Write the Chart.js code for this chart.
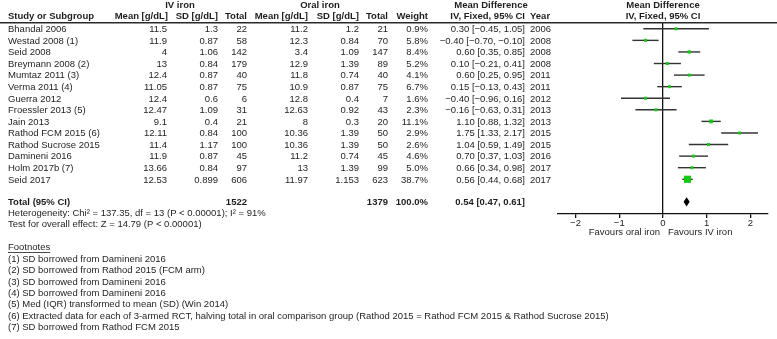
<!DOCTYPE html>
<html lang="en">
<head>
<meta charset="UTF-8" />
<title>IV iron vs oral iron - forest plot</title>
<script src="https://cdn.jsdelivr.net/npm/chart.js"></script>
<style>
  body { margin: 0; background: #ffffff; }
  #wrap { width: 777px; height: 339px; }
</style>
</head>
<body>
<div id="wrap"><canvas id="forest" width="777" height="339"></canvas></div>
<script>
// study rows
const studies = ["Bhandal 2006", "Westad 2008 (1)", "Seid 2008", "Breymann 2008 (2)", "Mumtaz 2011 (3)",
  "Verma 2011 (4)", "Guerra 2012", "Froessler 2013 (5)", "Jain 2013", "Rathod FCM 2015 (6)",
  "Rathod Sucrose 2015", "Damineni 2016", "Holm 2017b (7)", "Seid 2017"];
const ivMean = [11.5, 11.9, 4, 13, 12.4, 11.05, 12.4, 12.47, 9.1, 12.11, 11.4, 11.9, 13.66, 12.53];
const ivSD = [1.3, 0.87, 1.06, 0.84, 0.87, 0.87, 0.6, 1.09, 0.4, 0.84, 1.17, 0.87, 0.84, 0.899];
const ivN = [22, 58, 142, 179, 40, 75, 6, 31, 21, 100, 100, 45, 97, 606];
const oralMean = [11.2, 12.3, 3.4, 12.9, 11.8, 10.9, 12.8, 12.63, 8, 10.36, 10.36, 11.2, 13, 11.97];
const oralSD = [1.2, 0.84, 1.09, 1.39, 0.74, 0.87, 0.4, 0.92, 0.3, 1.39, 1.39, 0.74, 1.39, 1.153];
const oralN = [21, 70, 147, 89, 40, 75, 7, 43, 20, 50, 50, 45, 99, 623];
const weight = [0.9, 5.8, 8.4, 5.2, 4.1, 6.7, 1.6, 2.3, 11.1, 2.9, 2.6, 4.6, 5.0, 38.7];
const meanDiff = [0.30, -0.40, 0.60, 0.10, 0.60, 0.15, -0.40, -0.16, 1.10, 1.75, 1.04, 0.70, 0.66, 0.56];
const ciLow = [-0.45, -0.70, 0.35, -0.21, 0.25, -0.13, -0.96, -0.63, 0.88, 1.33, 0.59, 0.37, 0.34, 0.44];
const ciHigh = [1.05, -0.10, 0.85, 0.41, 0.95, 0.43, 0.16, 0.31, 1.32, 2.17, 1.49, 1.03, 0.98, 0.68];
const years = [2006, 2008, 2008, 2008, 2011, 2011, 2012, 2013, 2013, 2015, 2015, 2016, 2017, 2017];

// pooled result
const totalIvN = 1522;
const totalOralN = 1379;
const totalWeight = 100.0;
const totalMD = [0.54, 0.47, 0.61]; // estimate, low, high

// axis
const tickValues = [-2, -1, 0, 1, 2];
const tickLabels = ["\u22122", "\u22121", "0", "1", "2"];

const statsLines = [
  "Heterogeneity: Chi\u00b2 = 137.35, df = 13 (P < 0.00001); I\u00b2 = 91%",
  "Test for overall effect: Z = 14.79 (P < 0.00001)"
];
const footnotes = [
  "(1) SD borrowed from Damineni 2016",
  "(2) SD borrowed from Rathod 2015 (FCM arm)",
  "(3) SD borrowed from Damineni 2016",
  "(4) SD borrowed from Damineni 2016",
  "(5) Med (IQR) transformed to mean (SD) (Win 2014)",
  "(6) Extracted data for each of 3-armed RCT, halving total in oral comparison group (Rathod 2015 = Rathod FCM 2015 & Rathod Sucrose 2015)",
  "(7) SD borrowed from Rathod FCM 2015"
];

const FONT = '"Liberation Sans", Arial, sans-serif';
const TEXT = "#1e1e1e";
const minus = s => String(s).replace(/-/g, "\u2212");
const f2 = v => minus(v.toFixed(2));
const ciText = (m, lo, hi) => f2(m) + " [" + f2(lo) + ", " + f2(hi) + "]";
const totalRow = studies.length + 0.95;
// square side grows with study weight
const squareRadius = weight.map(w => Math.max(3, 1.15 * Math.sqrt(w)) / Math.SQRT2);

function txt(ctx, s, x, y, align, bold) {
  ctx.font = (bold ? "bold " : "") + "9.5px " + FONT;
  ctx.textAlign = align || "left";
  ctx.textBaseline = "middle";
  ctx.fillStyle = TEXT;
  ctx.fillText(s, x, y);
}

const forestPlugin = {
  id: "forestPlugin",
  beforeDatasetsDraw(chart) {
    const { ctx, scales: { x, y } } = chart;
    ctx.save();
    ctx.strokeStyle = "#333";
    ctx.lineWidth = 1.4;
    studies.forEach((s, i) => {
      const py = y.getPixelForValue(i);
      ctx.beginPath();
      ctx.moveTo(x.getPixelForValue(ciLow[i]), py);
      ctx.lineTo(x.getPixelForValue(ciHigh[i]), py);
      ctx.stroke();
    });
    ctx.restore();
  },
  afterDatasetsDraw(chart) {
    const { ctx, scales: { x, y } } = chart;
    const py = y.getPixelForValue(totalRow);
    ctx.save();
    ctx.fillStyle = "#000";
    ctx.beginPath();
    ctx.moveTo(x.getPixelForValue(totalMD[1]), py);
    ctx.lineTo(x.getPixelForValue(totalMD[0]), py - 4.6);
    ctx.lineTo(x.getPixelForValue(totalMD[2]), py);
    ctx.lineTo(x.getPixelForValue(totalMD[0]), py + 4.6);
    ctx.closePath();
    ctx.fill();
    ctx.restore();
  },
  afterDraw(chart) {
    const { ctx, scales: { x, y } } = chart;
    ctx.save();
    // header line
    ctx.strokeStyle = "#2a2a2a";
    ctx.lineWidth = 1.5;
    ctx.beginPath();
    ctx.moveTo(0, 22.7);
    ctx.lineTo(777, 22.7);
    ctx.stroke();

    // group headers
    txt(ctx, "IV iron", 180, 5, "center", true);
    txt(ctx, "Oral iron", 320, 5, "center", true);
    txt(ctx, "Mean Difference", 491, 5, "center", true);
    txt(ctx, "Mean Difference", x.getPixelForValue(0), 5, "center", true);
    // column headers
    txt(ctx, "Study or Subgroup", 8, 16, "left", true);
    txt(ctx, "Mean [g/dL]", 168, 16, "right", true);
    txt(ctx, "SD [g/dL]", 218, 16, "right", true);
    txt(ctx, "Total", 247, 16, "right", true);
    txt(ctx, "Mean [g/dL]", 308, 16, "right", true);
    txt(ctx, "SD [g/dL]", 359, 16, "right", true);
    txt(ctx, "Total", 388, 16, "right", true);
    txt(ctx, "Weight", 428, 16, "right", true);
    txt(ctx, "IV, Fixed, 95% CI", 525, 16, "right", true);
    txt(ctx, "Year", 530, 16, "left", true);
    txt(ctx, "IV, Fixed, 95% CI", x.getPixelForValue(0), 16, "center", true);

    // study rows
    studies.forEach((s, i) => {
      const py = y.getPixelForValue(i) + 0.7;
      txt(ctx, s, 8, py, "left");
      txt(ctx, String(ivMean[i]), 167, py, "right");
      txt(ctx, String(ivSD[i]), 218, py, "right");
      txt(ctx, String(ivN[i]), 247, py, "right");
      txt(ctx, String(oralMean[i]), 308, py, "right");
      txt(ctx, String(oralSD[i]), 359, py, "right");
      txt(ctx, String(oralN[i]), 388, py, "right");
      txt(ctx, weight[i].toFixed(1) + "%", 428, py, "right");
      txt(ctx, ciText(meanDiff[i], ciLow[i], ciHigh[i]), 525, py, "right");
      txt(ctx, String(years[i]), 530, py, "left");
    });

    // total row
    const ty = y.getPixelForValue(totalRow) + 0.5;
    txt(ctx, "Total (95% CI)", 8, ty, "left", true);
    txt(ctx, String(totalIvN), 247, ty, "right", true);
    txt(ctx, String(totalOralN), 388, ty, "right", true);
    txt(ctx, totalWeight.toFixed(1) + "%", 428, ty, "right", true);
    txt(ctx, ciText(totalMD[0], totalMD[1], totalMD[2]), 525, ty, "right", true);

    // stats
    txt(ctx, statsLines[0], 8, 213.3, "left");
    txt(ctx, statsLines[1], 8, 224.6, "left");

    // axis captions
    const zx = x.getPixelForValue(0);
    txt(ctx, "Favours oral iron", zx - 3, 232.5, "right");
    txt(ctx, "Favours IV iron", zx + 5, 232.5, "left");

    // footnotes
    txt(ctx, "Footnotes", 8, 247.7, "left");
    ctx.font = "9.5px " + FONT;
    const w = ctx.measureText("Footnotes").width;
    ctx.strokeStyle = TEXT;
    ctx.lineWidth = 0.8;
    ctx.beginPath();
    ctx.moveTo(8, 252.5);
    ctx.lineTo(8 + w, 252.5);
    ctx.stroke();
    footnotes.forEach((f, i) => txt(ctx, f, 8, 259.3 + i * 11.35, "left"));
    ctx.restore();
  }
};

new Chart(document.getElementById("forest"), {
  type: "scatter",
  data: {
    datasets: [{
      data: studies.map((s, i) => ({ x: meanDiff[i], y: i })),
      pointStyle: "rect",
      pointRadius: squareRadius,
      pointHoverRadius: squareRadius,
      backgroundColor: "#14c814",
      borderWidth: 0
    }]
  },
  options: {
    responsive: false,
    animation: false,
    events: [],
    layout: { padding: { left: 558, right: 9, top: 23, bottom: 105 } },
    plugins: { legend: { display: false }, tooltip: { enabled: false } },
    scales: {
      x: {
        type: "linear",
        position: "bottom",
        min: -2.4,
        max: 2.4,
        afterBuildTicks: s => { s.ticks = tickValues.map(v => ({ value: v })); },
        afterFit: s => { s.height = 20; },
        ticks: {
          autoSkip: false,
          maxRotation: 0,
          padding: 0,
          color: TEXT,
          font: { family: FONT, size: 9.5 },
          callback: (v, i) => tickLabels[i]
        },
        grid: {
          drawOnChartArea: true,
          color: c => (c.tick && c.tick.value === 0 ? "#111" : "rgba(0,0,0,0)"),
          lineWidth: 1.3,
          tickColor: "#111",
          tickLength: 4
        },
        border: { display: true, color: "#111", width: 1.3 }
      },
      y: {
        type: "linear",
        display: false,
        reverse: true,
        min: -0.5,
        max: 16
      }
    }
  },
  plugins: [forestPlugin]
});
</script>
</body>
</html>
